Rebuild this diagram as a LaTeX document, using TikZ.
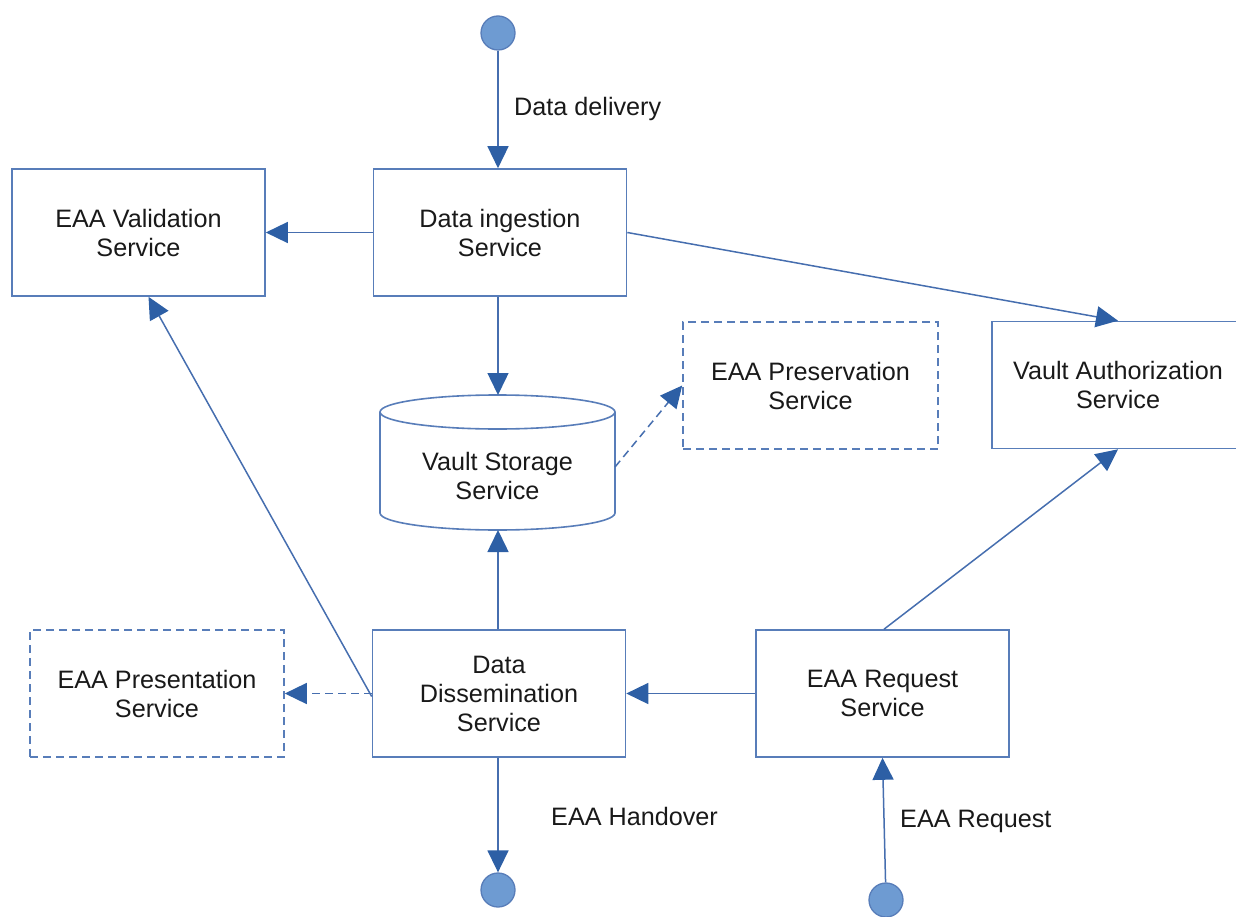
\documentclass[tikz,border=0pt]{standalone}
\usepackage{fontspec}
\setmainfont{Liberation Sans}
\usetikzlibrary{arrows.meta}
\definecolor{edgec}{RGB}{88,125,185}
\definecolor{linec}{RGB}{70,110,175}
\definecolor{headc}{RGB}{45,95,165}
\definecolor{dotfill}{RGB}{110,155,210}
\definecolor{txt}{RGB}{25,25,25}
\begin{document}
\begin{tikzpicture}[x=1pt,y=-1pt,
  box/.style={draw=edgec, line width=1.6pt, minimum width=253pt, minimum height=127pt, align=center, text=txt, font=\fontsize{25.2}{29}\selectfont, inner sep=0pt},
  dbox/.style={box, dash pattern=on 8pt off 5pt},
  dot/.style={circle, draw=edgec, fill=dotfill, line width=1.3pt, minimum size=34pt, inner sep=0pt},
  conn/.style={draw=linec, line width=1.5pt, -{Triangle[length=22pt,width=21pt,fill=headc,color=headc]}},
  dconn/.style={conn, dash pattern=on 8pt off 5pt},
  lbl/.style={anchor=west, text=txt, font=\fontsize{25.2}{29}\selectfont, inner sep=0pt}]
\useasboundingbox (0,0) rectangle (1236,917);
\clip (0,0) rectangle (1236,917);

% nodes
\node[dot] (top) at (498,33) {};
\node[box] (di) at (500,232.5) {Data ingestion\\Service};
\node[box] (val) at (138.5,232.5) {EAA Validation\\Service};
\node[box, minimum width=252pt] (va) at (1118,385) {Vault Authorization\\Service};
\node[dbox, minimum width=255pt] (ps) at (810.5,385.5) {EAA Preservation\\Service};
\node[box] (dd) at (499,693.5) {Data\\Dissemination\\Service};
\node[dbox, minimum width=254pt] (pr) at (157,693.5) {EAA Presentation\\Service};
\node[box] (req) at (882.5,693.5) {EAA Request\\Service};
\node[dot] (bot) at (498,890) {};
\node[dot] (rc) at (886,900) {};

% cylinder (Vault Storage Service)
\draw[edgec, line width=1.6pt, fill=white]
  (380,412) -- (380,513) arc[start angle=180, end angle=360, x radius=117.5pt, y radius=17pt]
  -- (615,412);
\draw[edgec, line width=1.6pt] (497.5,412) ellipse[x radius=117.5pt, y radius=17pt];
\node[align=center, text=txt, font=\fontsize{25.2}{29}\selectfont, inner sep=0pt] (vs) at (497.5,476) {Vault Storage\\Service};
\coordinate (vstop) at (498,395);
\coordinate (vsbot) at (498,530);
\coordinate (vsright) at (615,467);

% connectors
\draw[conn] (top) -- (top |- di.north);
\draw[conn] (di.west) -- (val.east);
\draw[conn] (di.east) -- (va.north);
\draw[conn] (vstop |- di.south) -- (vstop);
\draw[dconn] (vsright) -- (ps.west);
\draw[conn] (vsbot |- dd.north) -- (vsbot);
\draw[conn] ([yshift=-3pt]dd.west) -- ([xshift=10pt]val.south);
\draw[dconn] (dd.west) -- (pr.east);
\draw[conn] (req.west) -- (dd.east);
\draw[conn] ([xshift=1.5pt]req.north) -- (va.south);
\draw[conn] (bot |- dd.south) -- (bot);
\draw[conn] (rc) -- (req.south);

% labels
\node[lbl] (l1) at (514,109) {Data delivery};
\node[lbl] (l2) at (551,816) {EAA Handover};
\node[lbl] (l3) at (900,821) {EAA Request};
\end{tikzpicture}
\end{document}
